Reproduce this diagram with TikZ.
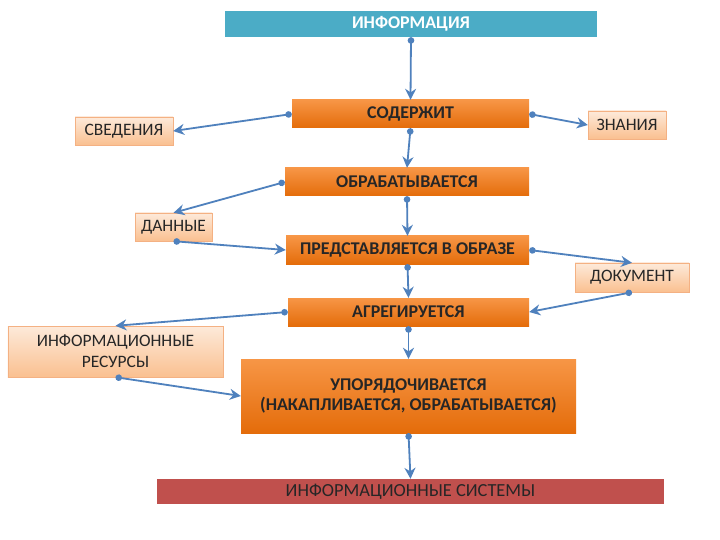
\documentclass[tikz,border=0pt]{standalone}
\usepackage{fontspec}
\setmainfont{Carlito}
\usetikzlibrary{arrows.meta}
\definecolor{teal1}{HTML}{4BACC6}
\definecolor{orange1}{HTML}{F79646}
\definecolor{orange2}{HTML}{E46C0A}
\definecolor{peach1}{HTML}{FDEADA}
\definecolor{peach2}{HTML}{FAC090}
\definecolor{peachline}{HTML}{F4B183}
\definecolor{red1}{HTML}{C0504D}
\definecolor{blue1}{HTML}{4F81BD}
\tikzset{
  obox/.style={top color=orange1, bottom color=orange2, inner sep=0pt,
    font=\fontsize{18}{21}\selectfont\bfseries, text=black!85, align=center},
  pbox/.style={top color=peach1, bottom color=peach2, draw=peachline, inner sep=0pt,
    font=\fontsize{17.5}{21}\selectfont, text=black!85, align=center},
  link/.style={draw=blue1, line width=1.8bp,
    {Circle[length=6.5bp]}-{Stealth[length=11bp,width=11bp]}}
}
\begin{document}
\begin{tikzpicture}[x=1bp,y=-1bp]
  \useasboundingbox[fill=white] (0,0) rectangle (720,540);
  \node[fill=teal1, minimum width=372bp, minimum height=26bp, inner sep=0pt,
    text=white, font=\fontsize{18}{21}\selectfont\bfseries] (info) at (411,24) {ИНФОРМАЦИЯ};
  \node[obox, minimum width=237bp, minimum height=28bp] (sod) at (410.5,114) {СОДЕРЖИТ};
  \node[pbox, minimum width=98bp, minimum height=28bp] (sved) at (124,131) {СВЕДЕНИЯ};
  \node[pbox, minimum width=78bp, minimum height=28bp] (znan) at (627,125) {ЗНАНИЯ};
  \node[obox, minimum width=244bp, minimum height=28bp] (obr) at (407,182) {ОБРАБАТЫВАЕТСЯ};
  \node[pbox, minimum width=77bp, minimum height=28bp] (dan) at (173.5,227) {ДАННЫЕ};
  \node[obox, minimum width=243bp, minimum height=28bp] (pred) at (407.5,250) {ПРЕДСТАВЛЯЕТСЯ В ОБРАЗЕ};
  \node[pbox, minimum width=114bp, minimum height=29bp] (doc) at (632,277.5) {ДОКУМЕНТ};
  \node[obox, minimum width=241bp, minimum height=28bp] (agr) at (408.5,312) {АГРЕГИРУЕТСЯ};
  \node[pbox, minimum width=215bp, minimum height=51bp] (res) at (115.5,351.5) {ИНФОРМАЦИОННЫЕ\\РЕСУРСЫ};
  \node[obox, minimum width=335bp, minimum height=74bp] (upor) at (408.5,396) {УПОРЯДОЧИВАЕТСЯ\\(НАКАПЛИВАЕТСЯ, ОБРАБАТЫВАЕТСЯ)};
  \node[fill=red1, minimum width=507bp, minimum height=25bp, inner sep=0pt,
    text=black!85, font=\fontsize{18.5}{21}\selectfont] (sys) at (410.5,491.5) {ИНФОРМАЦИОННЫЕ СИСТЕМЫ};

  \draw[link] (info.south) -- (sod.north);
  \draw[link] (sod.west) -- (sved.east);
  \draw[link] (sod.east) -- (znan.west);
  \draw[link] (sod.south) -- (obr.north);
  \draw[link] (obr.west) -- (dan.north);
  \draw[link] (obr.south) -- (pred.north);
  \draw[link] (dan.south) -- (pred.west);
  \draw[link] (pred.east) -- (doc.north);
  \draw[link] (pred.south) -- (agr.north);
  \draw[link] (doc.south) -- (agr.east);
  \draw[link] (agr.west) -- (res.north);
  \draw[link] (agr.south) -- (upor.north);
  \draw[link] (res.south) -- (upor.west);
  \draw[link] (upor.south) -- (sys.north);
\end{tikzpicture}
\end{document}
